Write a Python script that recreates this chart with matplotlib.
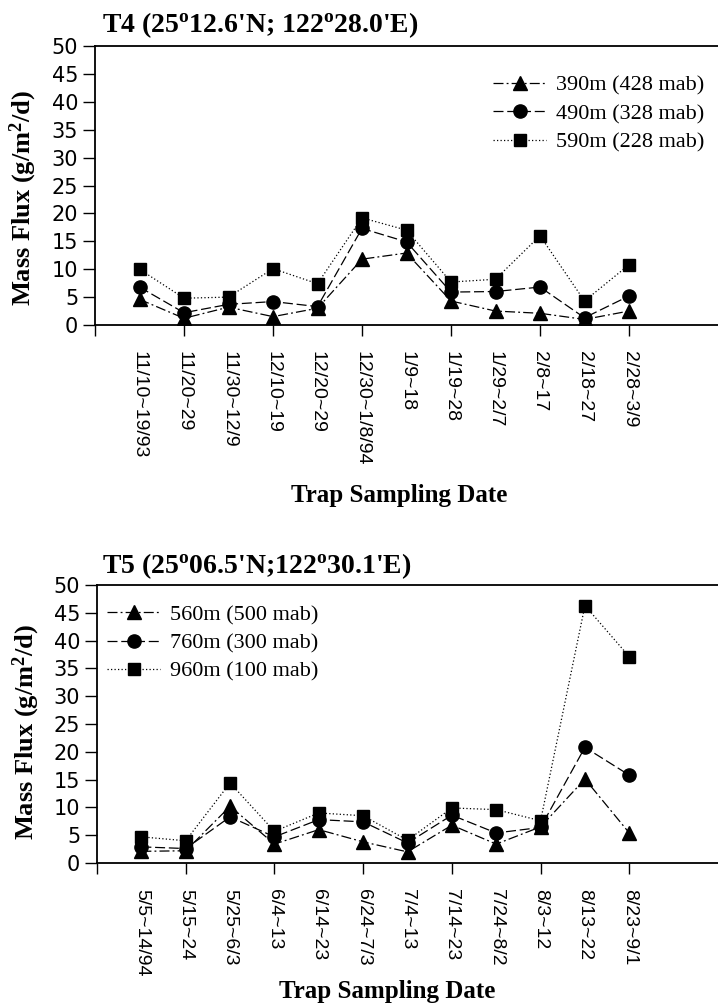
import matplotlib
matplotlib.use("Agg")
import matplotlib.pyplot as plt
import numpy as np

plt.rcParams["font.family"] = ["Liberation Sans", "DejaVu Sans"]
plt.rcParams["mathtext.fontset"] = "custom"
plt.rcParams["mathtext.rm"] = "Liberation Serif"
plt.rcParams["mathtext.bf"] = "Liberation Serif:bold"
plt.rcParams["mathtext.it"] = "Liberation Serif:italic"

# ---- T4 station ----
t4_dates = ["11/10~19/93", "11/20~29", "11/30~12/9", "12/10~19", "12/20~29",
            "12/30~1/8/94", "1/9~18", "1/19~28", "1/29~2/7", "2/8~17",
            "2/18~27", "2/28~3/9"]
t4_labels = ["390m (428 mab)", "490m (328 mab)", "590m (228 mab)"]
t4_390 = [4.6, 1.2, 3.2, 1.5, 3.0, 11.8, 12.9, 4.3, 2.5, 2.1, 1.0, 2.5]
t4_490 = [6.8, 2.2, 3.7, 4.2, 3.3, 17.3, 14.9, 5.9, 6.0, 6.8, 1.3, 5.2]
t4_590 = [10.0, 4.8, 5.0, 10.1, 7.4, 19.2, 17.0, 7.7, 8.2, 16.0, 4.3, 10.8]

# ---- T5 station ----
t5_dates = ["5/5~14/94", "5/15~24", "5/25~6/3", "6/4~13", "6/14~23",
            "6/24~7/3", "7/4~13", "7/14~23", "7/24~8/2", "8/3~12",
            "8/13~22", "8/23~9/1"]
t5_labels = ["560m (500 mab)", "760m (300 mab)", "960m (100 mab)"]
t5_560 = [2.1, 2.2, 10.2, 3.4, 6.0, 3.8, 2.0, 6.8, 3.4, 6.5, 15.1, 5.4]
t5_760 = [2.9, 2.6, 8.3, 4.7, 7.8, 7.4, 3.6, 8.6, 5.4, 6.4, 20.8, 15.8]
t5_960 = [4.7, 4.0, 14.4, 5.7, 9.0, 8.5, 4.1, 9.9, 9.6, 7.6, 46.3, 37.1]

W, H = 718, 1006
fig = plt.figure(figsize=(W / 100, H / 100), dpi=100)

styles = [
    dict(marker="^", ms=10, dashes=(8, 2.5, 1.5, 2.5)),
    dict(marker="o", ms=9.5, dashes=(8, 3)),
    dict(marker="s", ms=9, dashes=(1, 1.8)),
]

serif = "Liberation Serif"


def panel(rect, dates, series, labels, xmax, legend_anchor, title, title_y,
          ylab_xy, xlab_xy):
    ax = fig.add_axes(rect)
    x = np.arange(1, len(dates) + 1)
    lines = []
    for vals, st in zip(series, styles):
        ln, = ax.plot(x, vals, color="black", lw=0.9, marker=st["marker"],
                      ms=st["ms"], mfc="black", mec="black",
                      dashes=st["dashes"])
        lines.append(ln)
    ax.set_xlim(0, xmax)
    ax.set_ylim(0, 50)
    ax.set_yticks(np.arange(0, 51, 5))
    ax.xaxis.remove_overlapping_locs = False
    ax.set_xticks(np.arange(0, len(dates) + 1, 2))
    ax.set_xticklabels([])
    ax.set_xticks(x, dates, minor=True)
    ax.tick_params(axis="x", which="minor", length=0, pad=19,
                   labelsize=14, labelrotation=270)
    for lab in ax.get_xticklabels(minor=True):
        lab.set_va("top")
        lab.set_ha("center")
    ax.tick_params(axis="x", which="major", direction="out", length=8,
                   width=1.0)
    ax.tick_params(axis="y", direction="out", length=9, width=1.0,
                   labelsize=15, pad=3)
    for lab in ax.get_yticklabels():
        lab.set_family(["DejaVu Sans"])
    ax.spines["right"].set_visible(False)
    for s in ("left", "bottom", "top"):
        ax.spines[s].set_linewidth(1.3)
    ax.set_ylabel(r"Mass Flux (g/m$^{\mathbf{2}}$/d)", family=serif,
                  fontweight="bold", fontsize=19)
    ax.yaxis.set_label_coords(*ylab_xy)
    ax.legend(lines, labels, loc="upper left",
              bbox_to_anchor=legend_anchor, frameon=False,
              prop={"family": serif, "size": 16}, handlelength=2.4,
              handletextpad=0.45, labelspacing=0.35, borderpad=0,
              borderaxespad=0)
    fig.text(102 / W, 1 - title_y / H, title, ha="left", va="baseline",
             family=serif, fontweight="bold", fontsize=20)
    fig.text(xlab_xy[0] / W, 1 - xlab_xy[1] / H, "Trap Sampling Date",
             ha="center", va="baseline", family=serif, fontweight="bold",
             fontsize=18)
    return ax


panel([95 / W, 1 - 325 / H, 1 - 95 / W, 279 / H], t4_dates,
      [t4_390, t4_490, t4_590], t4_labels, 14.0, (0.639, 0.895),
      r"T4 (25$^{\mathbf{o}}$12.6'N; 122$^{\mathbf{o}}$28.0'E)", 32,
      (-0.09, 0.455), (399, 502))

panel([97 / W, 1 - 863 / H, 1 - 97 / W, 278 / H], t5_dates,
      [t5_560, t5_760, t5_960], t5_labels, 14.0, (0.016, 0.93),
      r"T5 (25$^{\mathbf{o}}$06.5'N;122$^{\mathbf{o}}$30.1'E)", 573,
      (-0.089, 0.471), (387, 998))

fig.savefig("out.png", dpi=100)
